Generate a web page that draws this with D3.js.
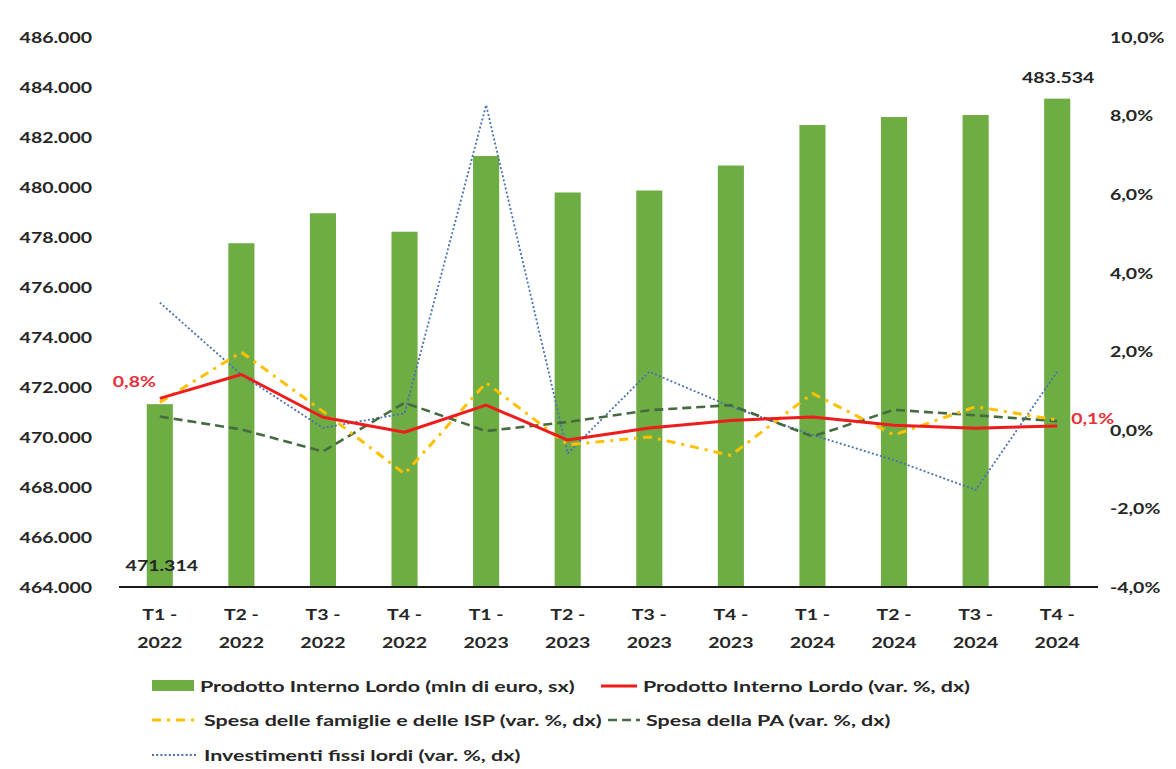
<!DOCTYPE html>
<html>
<head>
<meta charset="utf-8">
<script src="https://cdn.jsdelivr.net/npm/d3@7"></script>
<style>
  html, body { margin: 0; padding: 0; background: #ffffff; }
  svg { display: block; }
  text { font-family: Lato, "Open Sans", sans-serif; font-weight: 700; fill: #262626; }
</style>
</head>
<body>
<svg id="chart" width="1176" height="769"></svg>
<script>
// Quarterly categories
const categories = ["T1 - 2022", "T2 - 2022", "T3 - 2022", "T4 - 2022",
                    "T1 - 2023", "T2 - 2023", "T3 - 2023", "T4 - 2023",
                    "T1 - 2024", "T2 - 2024", "T3 - 2024", "T4 - 2024"];

// GDP level, millions of euro (left axis)
const pilLevel = [471314, 477750, 478950, 478210, 481240, 479780,
                  479860, 480860, 482480, 482800, 482880, 483534];

// Quarter-on-quarter % changes (right axis)
const pilVar        = [0.8, 1.41, 0.32, -0.06, 0.63, -0.26, 0.05, 0.24, 0.33, 0.12, 0.04, 0.1];
const spesaFamiglie = [0.7, 1.98, 0.47, -1.12, 1.2, -0.38, -0.18, -0.65, 0.93, -0.13, 0.59, 0.25];
const spesaPA       = [0.34, 0.01, -0.55, 0.69, -0.03, 0.2, 0.5, 0.63, -0.17, 0.51, 0.37, 0.22];
const investimenti  = [3.24, 1.4, 0.05, 0.42, 8.27, -0.6, 1.48, 0.59, -0.13, -0.77, -1.53, 1.48];

// Axis ticks
const leftTicks  = [464000, 466000, 468000, 470000, 472000, 474000, 476000,
                    478000, 480000, 482000, 484000, 486000];
const rightTicks = [-4, -2, 0, 2, 4, 6, 8, 10];

// Legend labels
const legendLabels = {
  bars: "Prodotto Interno Lordo (mln di euro, sx)",
  pil: "Prodotto Interno Lordo (var. %, dx)",
  fam: "Spesa delle famiglie e delle ISP (var. %, dx)",
  pa: "Spesa della PA (var. %, dx)",
  inv: "Investimenti fissi lordi (var. %, dx)"
};

const it = d3.formatLocale({ decimal: ",", thousands: ".", grouping: [3], currency: ["€", ""], minus: "-" });
const fmtLevel = it.format(",.0f");
const fmtPct = v => it.format(".1f")(v) + "%";

const SX = 1.3;          // horizontal stretch applied to axis and label text
const FONT = 15;
const LEG_SX = 1.34;     // legend text stretch
const LEG_FONT = 16;

const svg = d3.select("#chart");
const plot = { left: 119, right: 1098, top: 37, bottom: 587 };

const x = d3.scaleBand().domain(categories)
  .range([plot.left, plot.right])
  .paddingInner(0.68).paddingOuter(0.34);
const yL = d3.scaleLinear().domain([464000, 486000]).range([plot.bottom, plot.top]);
const yR = d3.scaleLinear().domain([-4, 10]).range([plot.bottom, plot.top]);
const cx = c => x(c) + x.bandwidth() / 2;

const colors = {
  bar: "#6DAD44",
  pil: "#EE1C1C",
  fam: "#FFC000",
  pa: "#456B40",
  inv: "#4A6FB5",
  label: "#E8303A"
};

// Stretched text helper: places text with its anchor at (px, py)
function stretchedText(parent, px, py, str, anchor, color, size, sx) {
  const g = parent.append("g")
    .attr("transform", `translate(${px},${py}) scale(${sx || SX},1)`);
  g.append("text")
    .attr("text-anchor", anchor)
    .attr("dominant-baseline", "central")
    .style("font-size", (size || FONT) + "px")
    .style("fill", color || "#262626")
    .text(str);
  return g;
}

// Bars
svg.append("g").selectAll("rect")
  .data(categories)
  .join("rect")
  .attr("x", c => x(c))
  .attr("width", x.bandwidth())
  .attr("y", (c, i) => yL(pilLevel[i]))
  .attr("height", (c, i) => plot.bottom - yL(pilLevel[i]))
  .attr("fill", colors.bar);

// Category axis
const xAxis = svg.append("g")
  .attr("transform", `translate(0,${plot.bottom})`)
  .call(d3.axisBottom(x).tickSize(0).tickPadding(0).tickFormat(""));
xAxis.select(".domain").attr("stroke", "#1a1a1a").attr("stroke-width", 2)
  .attr("d", `M${plot.left},0H${plot.right}`);
xAxis.selectAll(".tick").each(function (c) {
  const parts = c.split(" - ");
  const t = d3.select(this);
  t.select("text").remove();
  stretchedText(t, 0, 27, parts[0] + " -", "middle");
  stretchedText(t, 0, 55, parts[1], "middle");
});

// Left value axis
const yAxisL = svg.append("g")
  .attr("transform", `translate(${plot.left},0)`)
  .call(d3.axisLeft(yL).tickValues(leftTicks).tickSize(0).tickPadding(27).tickFormat(fmtLevel));
yAxisL.select(".domain").remove();
yAxisL.selectAll(".tick text")
  .style("font-size", FONT + "px").style("font-family", null)
  .attr("transform", `scale(${SX},1)`)
  .attr("x", -27 / SX)
  .attr("dy", "0.36em");

// Right percentage axis
const yAxisR = svg.append("g")
  .attr("transform", `translate(${plot.right},0)`)
  .call(d3.axisRight(yR).tickValues(rightTicks).tickSize(0).tickPadding(12).tickFormat(fmtPct));
yAxisR.select(".domain").remove();
yAxisR.selectAll(".tick text")
  .style("font-size", FONT + "px").style("font-family", null)
  .attr("transform", `scale(${SX},1)`)
  .attr("x", 12 / SX)
  .attr("dy", "0.36em");

// Percentage series
const line = d3.line().x((d, i) => cx(categories[i])).y(d => yR(d));
const series = [
  { data: investimenti,  color: colors.inv, width: 1.8, dash: "2,2.2" },
  { data: spesaPA,       color: colors.pa,  width: 2.6, dash: "9,5" },
  { data: spesaFamiglie, color: colors.fam, width: 3,   dash: "9,6,3,6" },
  { data: pilVar,        color: colors.pil, width: 3,   dash: null }
];
series.forEach(s => {
  svg.append("path")
    .datum(s.data)
    .attr("d", line)
    .attr("fill", "none")
    .attr("stroke", s.color)
    .attr("stroke-width", s.width)
    .attr("stroke-dasharray", s.dash)
    .attr("stroke-linejoin", "round");
});

// Data labels
const first = categories[0], last = categories[categories.length - 1];
stretchedText(svg, cx(first) + 2, plot.bottom - 22, fmtLevel(pilLevel[0]), "middle");
stretchedText(svg, cx(last) + 1, yL(pilLevel[pilLevel.length - 1]) - 21,
  fmtLevel(pilLevel[pilLevel.length - 1]), "middle");
stretchedText(svg, cx(first) - 47, yR(pilVar[0]) - 17, fmtPct(pilVar[0]), "start", colors.label);
stretchedText(svg, cx(last) + 14, yR(pilVar[pilVar.length - 1]) - 8,
  fmtPct(pilVar[pilVar.length - 1]), "start", colors.label);

// Legend
const legend = svg.append("g");
function legendEntry(sx, sy, sampleW, kind, color, dash, label) {
  if (kind === "rect") {
    legend.append("rect").attr("x", sx).attr("y", sy - 6).attr("width", sampleW).attr("height", 11)
      .attr("fill", color);
  } else {
    legend.append("line").attr("x1", sx).attr("x2", sx + sampleW).attr("y1", sy).attr("y2", sy)
      .attr("stroke", color).attr("stroke-width", kind.width).attr("stroke-dasharray", dash);
  }
  stretchedText(legend, sx + sampleW + 6, sy, label, "start", null, LEG_FONT, LEG_SX);
}
legendEntry(152, 686, 42, "rect", colors.bar, null, legendLabels.bars);
legendEntry(601, 686, 36, { width: 3 }, colors.pil, null, legendLabels.pil);
legendEntry(152, 720, 46, { width: 3 }, colors.fam, "9,6,3,6", legendLabels.fam);
legendEntry(608, 720, 32, { width: 2.6 }, colors.pa, "9,5", legendLabels.pa);
legendEntry(152, 755, 46, { width: 1.8 }, colors.inv, "2,2.2", legendLabels.inv);
</script>
</body>
</html>
